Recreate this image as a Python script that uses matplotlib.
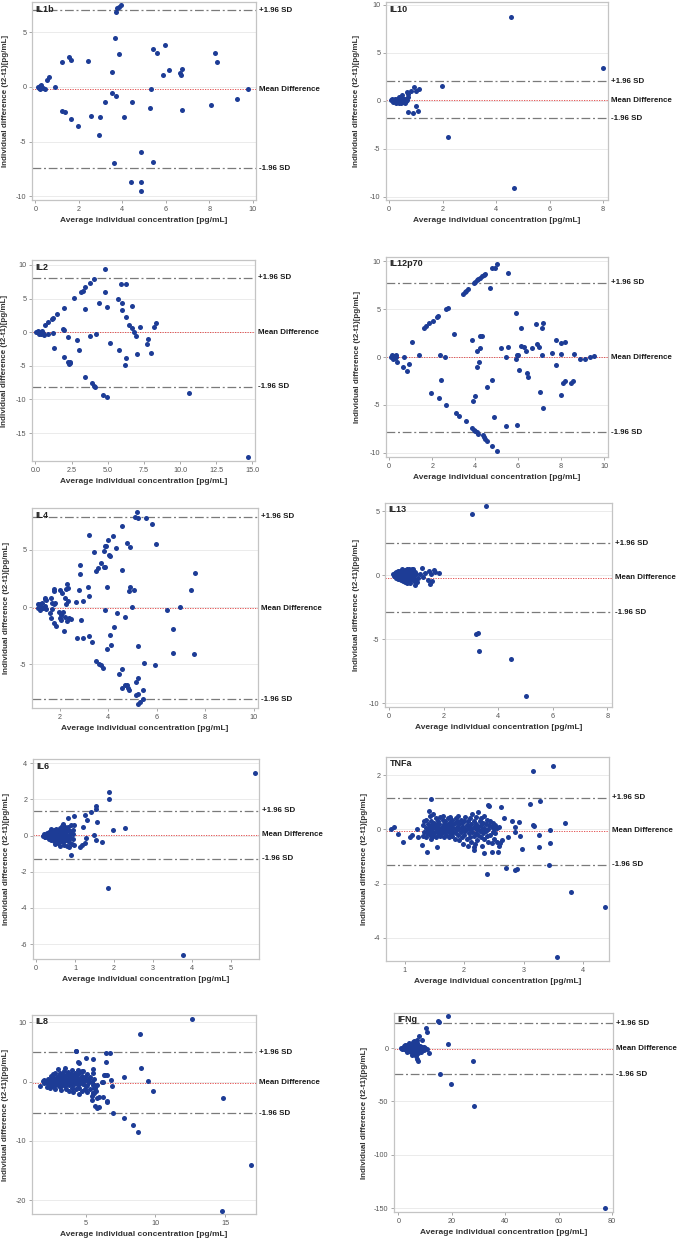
import matplotlib
matplotlib.use("Agg")
import matplotlib.pyplot as plt
import matplotlib.transforms as mtransforms

plt.rcParams['font.family'] = ['Liberation Sans', 'DejaVu Sans']
plt.rcParams['axes.unicode_minus'] = False

xlabel = "Average individual concentration [pg/mL]"
ylabel = "Individual difference (t2-t1)[pg/mL]"
line_labels = ["+1.96 SD", "Mean Difference", "-1.96 SD"]

# (mean, +1.96 SD, -1.96 SD) for each cytokine
il1b_lines = (-0.2, 7.0, -7.44)
il10_lines = (0.07, 2.05, -1.84)
il2_lines = (-0.03, 8.11, -8.13)
il12_lines = (-0.03, 7.78, -7.88)
il4_lines = (-0.09, 7.85, -8.02)
il13_lines = (-0.23, 2.47, -2.92)
il6_lines = (0.04, 1.38, -1.28)
tnfa_lines = (-0.05, 1.16, -1.3)
il8_lines = (-0.21, 4.95, -5.37)
ifng_lines = (-0.6, 23.4, -24.7)

# (average, difference) pairs
il1b_pts = [
    (3.95, 7.53), (3.85, 7.29), (3.77, 7.23), (3.72, 6.86), (3.66, 4.51), (3.86, 3.05),
    (3.55, 1.40), (3.55, -0.52), (3.71, -0.79), (3.22, -1.40), (4.08, -2.74), (4.43, -1.40),
    (2.97, -2.74), (2.58, -2.65), (2.91, -4.39), (1.98, -3.54), (1.65, -2.96), (1.35, -2.26),
    (1.22, -2.16), (1.25, 2.29), (1.57, 2.71), (1.65, 2.44), (2.42, 2.38), (0.92, -0.03),
    (0.62, 0.95), (0.54, 0.67), (0.12, -0.03), (0.20, 0.09), (0.28, 0.18), (0.23, -0.21),
    (0.35, -0.12), (0.43, -0.21), (0.17, -0.06), (3.62, -6.92), (4.85, -5.98), (4.88, -8.72),
    (4.42, -8.69), (4.85, -9.51), (5.42, -6.83), (5.43, 3.45), (5.60, 3.14), (5.97, 3.84),
    (5.31, -0.15), (5.28, -1.95), (5.88, 1.13), (6.14, 1.52), (6.66, 1.25), (6.69, 1.13),
    (6.77, 1.62), (6.77, -2.07), (8.28, 3.14), (8.34, 2.26), (8.06, -1.68), (9.29, -1.10),
    (9.78, -0.15),
]

il10_pts = [
    (4.55, 8.72), (8.01, 3.37), (1.98, 1.56), (0.93, 1.46), (1.10, 1.18), (1.02, 0.97),
    (0.80, 1.04), (0.67, 0.90), (0.70, 0.69), (0.49, 0.63), (0.71, 0.38), (0.36, 0.38),
    (1.01, -0.52), (0.71, -1.15), (0.90, -1.25), (1.08, -1.08), (2.21, -3.78), (4.67, -9.13),
    (0.06, 0.07), (0.14, 0.0), (0.20, 0.14), (0.26, -0.10), (0.31, 0.07), (0.35, -0.21),
    (0.41, -0.03), (0.46, 0.14), (0.51, -0.14), (0.56, 0.03), (0.60, -0.28), (0.16, -0.14),
    (0.29, 0.21), (0.39, 0.21), (0.44, -0.28), (0.49, 0.0), (0.54, 0.21), (0.61, -0.07),
    (0.66, 0.07), (0.24, -0.24), (0.11, 0.17), (0.34, -0.03), (0.21, 0.0), (0.47, 0.31),
    (0.64, 0.21),
]

il2_pts = [
    (4.82, 9.41), (4.08, 7.92), (3.81, 7.38), (3.46, 6.68), (3.30, 6.19), (3.14, 6.04),
    (4.82, 5.94), (2.70, 5.05), (5.91, 7.18), (6.30, 7.18), (5.68, 5.00), (6.02, 4.36),
    (5.98, 3.27), (6.67, 3.96), (4.38, 4.41), (4.96, 3.76), (3.46, 3.42), (1.98, 3.66),
    (1.48, 2.77), (1.22, 2.18), (1.13, 1.98), (0.90, 1.49), (0.69, 1.09), (6.30, 2.23),
    (6.46, 1.09), (6.69, 0.69), (8.33, 1.44), (8.17, 0.74), (7.25, 0.84), (6.81, 0.0),
    (6.97, -0.50), (7.82, -0.99), (7.69, -1.78), (8.01, -3.07), (7.04, -3.22), (5.19, -1.58),
    (5.79, -2.62), (6.30, -3.86), (6.21, -4.85), (4.20, -0.30), (3.81, -0.50), (2.88, -1.19),
    (2.24, -0.74), (1.89, 0.45), (2.01, 0.30), (1.25, -0.10), (0.88, -0.20), (1.27, -2.28),
    (1.96, -3.71), (2.28, -4.41), (2.40, -4.60), (2.31, -4.70), (2.42, -4.41), (3.05, -2.72),
    (3.46, -6.63), (3.90, -7.57), (4.08, -8.02), (4.15, -8.17), (4.71, -9.36), (4.92, -9.70),
    (10.64, -9.06), (14.68, -18.51), (0.07, 0.0), (0.18, 0.15), (0.30, -0.10), (0.42, 0.05),
    (0.53, -0.15), (0.60, -0.45), (0.25, -0.25), (0.48, 0.15), (0.37, -0.25),
]

il12_pts = [
    (5.02, 9.76), (4.91, 9.34), (4.78, 9.31), (5.51, 8.82), (4.46, 8.68), (4.39, 8.54),
    (4.30, 8.44), (4.22, 8.30), (4.15, 8.16), (4.08, 8.06), (4.01, 7.85), (3.94, 7.71),
    (4.69, 7.19), (3.68, 7.12), (3.59, 6.94), (3.51, 6.81), (3.42, 6.63), (2.73, 5.17),
    (2.64, 4.97), (2.27, 4.27), (2.20, 4.13), (2.03, 3.78), (1.83, 3.51), (1.72, 3.23),
    (1.63, 3.06), (1.04, 1.56), (3.00, 2.43), (3.87, 1.74), (4.24, 2.19), (4.32, 2.19),
    (4.22, 0.97), (4.10, 0.59), (4.18, -0.52), (4.10, -1.01), (1.38, 0.17), (2.34, 0.17),
    (2.59, -0.03), (0.67, 0.0), (0.90, -0.69), (0.82, -1.46), (0.62, -1.08), (0.37, -0.52),
    (0.08, 0.03), (0.14, -0.03), (0.20, 0.10), (0.25, -0.14), (0.30, 0.03), (0.17, -0.24),
    (0.33, 0.24), (0.11, 0.17), (0.23, -0.03), (2.42, -2.40), (1.94, -3.72), (2.31, -4.27),
    (2.64, -5.03), (3.11, -5.90), (3.25, -6.18), (3.59, -6.74), (3.84, -7.40), (3.93, -7.60),
    (4.01, -7.74), (4.07, -7.85), (4.13, -8.06), (4.35, -8.13), (4.39, -8.37), (4.46, -8.54),
    (4.55, -8.82), (4.80, -9.34), (5.02, -9.79), (4.89, -6.28), (5.42, -7.26), (5.96, -7.15),
    (4.80, -2.40), (4.57, -3.16), (4.01, -4.03), (3.90, -4.65), (5.19, 0.97), (5.53, 1.01),
    (5.42, -0.03), (5.92, 4.62), (6.12, 3.06), (6.12, 1.15), (6.29, 1.04), (6.37, 0.63),
    (5.95, 0.17), (6.01, 0.17), (5.92, -0.17), (6.04, -1.35), (6.43, -1.63), (6.44, -2.12),
    (6.66, 0.94), (6.83, 3.44), (6.88, 1.32), (6.99, 1.08), (7.10, 3.06), (7.14, 3.58),
    (7.10, 0.17), (7.02, -3.68), (7.14, -5.31), (7.58, 0.45), (7.76, 1.77), (7.75, -0.83),
    (7.98, 1.49), (8.17, 1.56), (7.97, 0.35), (7.98, -3.92), (8.07, -2.74), (8.17, -2.50),
    (8.45, -2.67), (8.54, -2.50), (8.60, 0.31), (8.88, -0.21), (9.13, -0.21), (9.32, -0.03),
    (9.52, 0.14),
]

il4_pts = [
    (5.18, 8.26), (5.10, 7.85), (5.22, 7.73), (5.55, 7.79), (5.81, 7.24), (4.59, 7.03),
    (3.22, 6.31), (4.18, 6.16), (3.99, 5.81), (4.77, 5.58), (4.90, 5.26), (4.32, 5.15),
    (3.85, 5.29), (3.92, 5.35), (3.82, 4.91), (4.03, 4.53), (4.07, 4.45), (3.40, 4.77),
    (5.96, 5.49), (3.70, 3.87), (3.59, 3.43), (3.85, 3.52), (3.81, 3.46), (3.48, 3.17),
    (4.59, 3.23), (2.85, 3.69), (2.85, 2.88), (7.60, 2.94), (7.41, 1.48), (3.97, 1.77),
    (4.89, 1.77), (4.88, 1.37), (5.08, 1.45), (3.16, 1.77), (3.22, 0.93), (2.81, 1.48),
    (2.30, 2.01), (2.34, 1.66), (2.25, 1.57), (2.00, 1.51), (2.08, 1.22), (1.78, 1.54),
    (1.75, 1.42), (2.23, 0.78), (2.33, 0.49), (2.25, 0.29), (2.67, 0.41), (2.96, 0.49),
    (5.00, 0.03), (6.97, 0.03), (6.41, -0.29), (3.86, -0.26), (4.36, -0.52), (4.70, -0.87),
    (2.88, -1.13), (4.23, -1.77), (6.68, -1.95), (4.08, -2.44), (4.12, -3.28), (3.95, -3.66),
    (3.19, -2.50), (3.34, -3.02), (2.96, -2.67), (2.71, -2.73), (5.23, -3.43), (6.68, -4.01),
    (7.56, -4.07), (3.48, -4.71), (3.64, -4.97), (3.70, -5.09), (3.77, -5.29), (4.56, -5.41),
    (4.45, -5.84), (5.49, -4.91), (5.93, -5.09), (4.56, -7.03), (4.70, -6.77), (4.77, -6.80),
    (4.81, -7.09), (4.84, -7.27), (5.15, -6.57), (5.22, -6.22), (5.45, -7.21), (5.15, -7.67),
    (5.25, -7.62), (5.42, -8.02), (5.32, -8.26), (5.22, -8.43),
    (1.10, 0.29), (1.18, 0.29), (1.29, 0.35), (1.18, 0.06), (1.12, -0.12), (1.21, -0.29),
    (1.32, -0.12), (1.41, 0.12), (1.42, -0.15), (1.40, 0.76), (1.42, 0.64), (1.38, 0.67),
    (1.67, 0.35), (1.64, 0.76), (1.75, 0.29), (1.79, 0.38), (1.70, -0.15), (1.64, -0.93),
    (1.75, -1.40), (1.86, -1.63), (1.97, -0.47), (2.00, -0.93), (2.07, -0.67), (2.04, -1.16),
    (2.14, -0.47), (2.16, -2.06), (2.23, -0.87), (2.30, -1.22), (2.38, -0.96), (2.45, -1.02),
    (1.59, -0.52),
]

il13_pts = [
    (3.55, 5.36), (3.04, 4.74), (3.25, -4.53), (3.20, -4.58), (3.28, -5.94), (4.48, -6.56),
    (5.02, -9.43),
    (1.20, 0.52), (1.45, 0.29), (1.63, 0.42), (1.69, 0.26), (1.84, 0.18), (1.53, 0.10),
    (1.58, -0.49), (1.51, -0.70), (1.41, -0.36), (1.26, -0.16), (1.14, 0.10), (1.33, 0.16),
    (1.04, -0.52), (0.94, -0.76),
    (0.15, 0.05), (0.18, -0.10), (0.20, 0.15), (0.22, -0.05), (0.25, 0.25), (0.27, -0.20),
    (0.30, 0.10), (0.32, -0.30), (0.33, 0.35), (0.35, 0.0), (0.37, -0.15), (0.40, 0.30),
    (0.42, -0.40), (0.44, 0.10), (0.46, -0.25), (0.48, 0.45), (0.50, 0.0), (0.52, -0.50),
    (0.54, 0.20), (0.56, -0.10), (0.58, 0.40), (0.60, -0.35), (0.62, 0.10), (0.64, -0.60),
    (0.66, 0.50), (0.68, -0.20), (0.70, 0.25), (0.72, -0.45), (0.74, 0.05), (0.76, 0.35),
    (0.78, -0.65), (0.80, 0.15), (0.82, -0.30), (0.84, 0.50), (0.86, -0.10), (0.88, 0.30),
    (0.90, -0.50), (0.92, 0.0), (0.95, 0.20), (0.98, -0.35), (1.00, 0.10), (1.05, -0.20),
    (0.36, 0.20), (0.43, -0.05), (0.53, 0.30), (0.61, -0.05), (0.69, 0.0), (0.73, 0.45),
    (0.79, -0.15), (0.83, 0.05), (0.57, -0.55), (0.47, 0.20), (0.39, -0.30), (0.29, 0.0),
    (0.65, -0.40), (0.75, -0.30), (0.87, 0.45), (0.93, -0.20),
]

il6_pts = [
    (5.62, 3.45), (1.87, 2.43), (1.87, 2.04), (1.54, 1.64), (1.55, 1.47), (1.41, 1.32),
    (1.26, 1.12), (1.32, 0.85), (1.57, 0.77), (0.97, 1.07), (0.83, 0.97), (1.21, 0.46),
    (1.97, 0.33), (2.29, 0.44), (1.50, 0.05), (1.53, -0.24), (1.27, -0.15), (1.69, -0.37),
    (1.26, -0.43), (1.18, -0.52), (1.14, -0.65), (0.98, -0.52), (0.90, -1.06), (1.84, -2.90),
    (3.77, -6.61), (0.97, 0.61), (0.95, 0.29), (0.84, -0.63),
    (0.17, 0.0), (0.20, 0.10), (0.22, -0.10), (0.25, 0.05), (0.27, 0.15), (0.30, -0.05),
    (0.32, 0.20), (0.33, -0.15), (0.35, 0.10), (0.37, 0.0), (0.38, -0.25), (0.40, 0.25),
    (0.42, 0.05), (0.43, -0.10), (0.45, 0.30), (0.47, -0.30), (0.48, 0.15), (0.50, 0.0),
    (0.52, 0.35), (0.53, -0.20), (0.55, 0.10), (0.57, -0.40), (0.58, 0.25), (0.60, -0.05),
    (0.62, 0.40), (0.63, -0.30), (0.65, 0.15), (0.67, 0.55), (0.68, -0.15), (0.70, 0.30),
    (0.72, -0.50), (0.73, 0.05), (0.75, 0.45), (0.77, -0.25), (0.78, 0.20), (0.80, -0.60),
    (0.82, 0.0), (0.83, 0.50), (0.85, -0.35), (0.87, 0.25), (0.88, -0.10), (0.90, 0.60),
    (0.92, -0.45), (0.94, 0.10), (0.95, -0.20), (0.28, 0.05), (0.36, -0.05), (0.41, 0.15),
    (0.46, -0.15), (0.51, 0.20), (0.56, -0.10), (0.61, 0.05), (0.66, -0.05), (0.71, 0.10),
    (0.76, 0.0), (0.81, 0.30), (0.86, 0.10), (0.24, -0.05), (0.31, 0.10), (0.44, 0.0),
    (0.54, 0.05), (0.64, 0.25), (0.69, -0.35), (0.74, -0.10), (0.79, 0.40), (0.84, -0.20),
    (0.59, -0.25), (0.49, -0.45), (0.39, 0.35), (0.34, -0.20), (0.62, -0.55), (0.70, 0.62),
]

tnfa_pts = [
    (3.50, 2.34), (3.15, 2.14), (3.28, 1.03), (3.10, 0.92), (1.45, 1.13), (3.70, 0.23),
    (3.15, 0.17), (3.18, 0.13), (3.44, -0.03), (3.25, -0.21), (3.44, -0.50), (3.25, -0.66),
    (2.97, -0.72), (3.43, -1.31), (2.70, -1.41), (2.88, -1.48), (2.85, -1.50), (2.39, -1.65),
    (3.79, -2.31), (4.37, -2.88), (3.56, -4.73), (2.94, -0.24), (2.92, 0.28), (2.81, 0.31),
    (2.67, 0.40), (2.62, 0.83), (2.85, 0.07), (2.86, -0.09), (2.73, -0.30), (2.60, -0.52),
    (2.63, -0.40), (2.46, -0.85), (2.57, -0.84), (2.33, -0.89), (2.16, -0.67), (2.16, -0.75),
    (1.37, -0.84), (1.54, -0.67), (0.97, -0.47), (0.77, 0.03), (0.82, 0.08), (0.89, -0.16),
    (1.09, -0.30), (1.12, -0.21), (1.21, 0.0), (1.23, -0.30), (1.29, -0.56), (1.41, 0.68),
    (1.47, 0.58),
    (1.30, 0.15), (1.30, -0.25), (1.33, 0.30), (1.33, -0.10), (1.36, 0.05), (1.36, -0.30),
    (1.36, 0.35), (1.38, -0.15), (1.40, 0.20), (1.40, -0.05), (1.42, 0.50), (1.42, -0.20),
    (1.42, 0.10), (1.44, 0.0), (1.44, 0.30), (1.44, -0.35), (1.46, -0.10), (1.46, 0.15),
    (1.48, 0.05), (1.48, -0.25), (1.50, 0.25), (1.50, -0.15), (1.50, 0.10), (1.52, 0.0),
    (1.52, 0.40), (1.52, -0.30), (1.54, 0.15), (1.54, -0.05), (1.56, 0.30), (1.56, -0.20),
    (1.56, 0.05), (1.58, -0.10), (1.58, 0.20), (1.60, 0.45), (1.60, 0.0), (1.60, -0.25),
    (1.62, 0.10), (1.62, -0.15), (1.64, 0.35), (1.64, -0.05), (1.64, 0.50), (1.66, 0.20),
    (1.66, -0.30), (1.68, 0.0), (1.68, 0.30), (1.68, -0.10), (1.70, 0.15), (1.70, -0.20),
    (1.72, 0.40), (1.72, -0.05), (1.72, 0.05), (1.74, -0.30), (1.74, 0.25), (1.76, 0.10),
    (1.76, -0.15), (1.76, 0.45), (1.78, 0.0), (1.78, 0.30), (1.80, -0.25), (1.80, 0.15),
    (1.80, 0.35), (1.82, 0.05), (1.82, -0.10), (1.84, 0.25), (1.84, -0.35), (1.86, 0.40),
    (1.86, 0.0), (1.86, -0.15), (1.88, 0.10), (1.88, 0.30), (1.90, -0.20), (1.90, 0.50),
    (1.90, 0.0), (1.92, 0.20), (1.92, -0.40), (1.94, 0.05), (1.94, -0.10), (1.94, 0.35),
    (1.96, 0.25), (1.96, -0.30), (1.98, 0.0), (1.98, 0.10), (1.98, -0.55), (2.00, 0.30),
    (2.00, -0.20), (2.00, 0.05), (2.02, -0.05), (2.02, 0.45), (2.04, 0.15), (2.04, -0.35),
    (2.04, 0.0), (2.06, 0.30), (2.06, -0.60), (2.08, -0.15), (2.08, 0.10), (2.08, 0.05),
    (2.10, 0.40), (2.10, -0.30), (2.12, 0.0), (2.12, 0.20), (2.12, -0.45), (2.14, -0.10),
    (2.14, 0.55), (2.16, 0.30), (2.16, -0.25), (2.16, 0.10), (2.18, 0.05), (2.18, -0.55),
    (2.20, 0.45), (2.20, -0.15), (2.20, 0.20), (2.22, 0.0), (2.22, -0.40), (2.24, 0.65),
    (2.24, 0.10), (2.24, -0.20), (2.26, 0.30), (2.26, -0.05), (2.28, 0.15), (2.28, -0.30),
    (2.28, 0.40), (2.30, 0.0), (2.30, -0.60), (2.32, 0.25), (2.32, -0.15), (2.34, 0.50),
    (2.34, -0.35), (2.34, 0.05), (2.36, 0.20), (2.36, -0.05), (2.38, 0.35), (2.38, -0.25),
    (2.40, 0.90), (2.40, 0.0), (2.40, -0.45), (2.42, 0.85), (2.42, 0.15), (2.44, 0.30),
    (2.44, -0.20), (2.46, 0.10), (2.46, -0.50), (2.48, 0.25), (2.48, -0.10), (2.50, 0.0),
    (2.50, -0.35), (2.52, 0.15), (2.52, -0.15), (2.55, -0.45), (2.55, 0.05), (2.58, -0.60),
    (2.58, 0.10),
]

il8_pts = [
    (12.64, 10.5), (8.92, 8.0), (8.97, 2.32), (9.47, 0.13), (9.83, -1.5), (7.76, 0.8),
    (14.86, -2.84), (16.88, -14.07), (14.78, -21.75), (7.74, -6.16), (8.37, -7.39),
    (8.73, -8.41), (6.92, -5.37), (6.90, -0.71), (6.78, 0.35), (6.75, 4.78), (6.44, 4.89),
    (6.44, 3.33), (6.30, 1.08), (6.40, 1.08), (6.54, 1.08), (6.49, -3.27), (6.51, -3.44),
    (6.20, -2.52), (5.91, -2.57), (5.91, -4.34), (5.82, -4.51), (5.67, -4.06), (5.50, 2.2),
    (5.48, 3.83), (5.00, 3.94), (4.28, 5.17), (4.40, 3.27), (6.13, 0.0), (6.25, -0.04),
    (5.58, -0.6), (5.65, -1.16), (5.53, -2.0), (5.41, -3.02), (5.48, -1.84), (4.69, 1.81),
    (4.57, 0.69),
    (1.7, -0.7), (1.9, 0.1), (2.0, -0.3), (2.0, 0.3), (2.2, 0.0), (2.2, -0.9), (2.3, 0.5),
    (2.3, -0.4), (2.4, 0.2), (2.4, -0.1), (2.4, -1.0), (2.5, 1.0), (2.5, 0.3), (2.5, -0.5),
    (2.6, 1.3), (2.6, 0.0), (2.6, -0.8), (2.7, 0.6), (2.7, -0.3), (2.7, 0.1), (2.8, 1.5),
    (2.8, 0.2), (2.8, -0.6), (2.8, -1.2), (2.9, 0.8), (2.9, -0.1), (2.9, 0.4), (3.0, 2.2),
    (3.0, 1.0), (3.0, 0.0), (3.0, -0.5), (3.1, 0.3), (3.1, -0.9), (3.1, 1.5), (3.2, 0.6),
    (3.2, -0.2), (3.2, -1.4), (3.3, 1.2), (3.3, 0.1), (3.3, -0.6), (3.4, 0.8), (3.4, -0.3),
    (3.4, 0.4), (3.4, 1.8), (3.5, 2.3), (3.5, 0.0), (3.5, -0.8), (3.6, 1.1), (3.6, 0.5),
    (3.6, -0.4), (3.6, -1.2), (3.7, 0.2), (3.7, 1.6), (3.7, -0.1), (3.8, 0.9), (3.8, -0.6),
    (3.8, 0.4), (3.8, -1.5), (3.9, 1.3), (3.9, 0.0), (3.9, -0.3), (4.0, 0.6), (4.0, -1.0),
    (4.0, 1.9), (4.1, 0.2), (4.1, -0.5), (4.1, 1.0), (4.1, -1.8), (4.2, 1.5), (4.2, 0.4),
    (4.2, -0.2), (4.3, 5.2), (4.3, 0.8), (4.3, -1.3), (4.3, 0.0), (4.4, 1.2), (4.4, -0.6),
    (4.4, 2.0), (4.5, 3.2), (4.5, 0.3), (4.5, -1.0), (4.5, -2.1), (4.6, 1.6), (4.6, -0.2),
    (4.7, 0.5), (4.7, -1.5), (4.7, 1.0), (4.8, 1.8), (4.8, -0.4), (4.8, 0.0), (4.9, 0.8),
    (4.9, -1.2), (5.0, 0.2), (5.0, -0.8), (5.1, 1.2), (5.1, -0.5), (5.1, -1.8), (5.2, 0.4),
    (5.2, -0.1), (5.3, -1.3), (5.3, 0.7), (5.4, 0.0), (5.4, -2.5), (5.5, -0.6), (5.5, 1.4),
    (5.6, -1.1), (5.6, -2.0), (5.6, 0.5), (5.7, -1.6), (5.8, -0.5), (5.8, -2.8),
]

ifng_pts = [
    (18.4, 29.7), (15.0, 25.0), (15.2, 24.1), (10.3, 18.8), (10.8, 15.3), (7.8, 11.6),
    (18.4, 3.4), (28.1, -12.2), (15.5, -24.7), (19.8, -34.1), (28.2, -54.4), (77.3, -150.0),
    (6.8, 7.2), (8.8, 7.2), (6.9, -10.3), (7.4, -11.9), (11.6, -4.7), (9.7, 0.9),
    (10.6, -0.6), (6.4, 0.6),
    (1.0, 0.5), (1.5, -0.5), (2.0, 1.5), (2.2, -1.0), (2.5, 0.0), (2.8, 2.0), (3.0, -2.0),
    (3.2, 1.0), (3.5, -0.5), (3.7, 3.0), (3.9, -3.0), (4.0, 0.5), (4.2, 2.5), (4.4, -1.5),
    (4.6, 4.0), (4.8, -4.0), (5.0, 1.0), (5.1, -0.5), (5.3, 5.5), (5.5, -2.5), (5.6, 2.0),
    (5.8, -6.0), (6.0, 0.0), (6.2, 3.5), (6.4, -3.5), (6.6, 1.5), (6.8, -1.0), (7.0, 4.5),
    (7.2, -5.0), (7.5, 0.5), (7.8, -2.0), (8.0, 2.0), (8.3, -3.5), (8.6, 0.0), (9.0, 1.0),
    (2.4, 3.0), (3.3, -4.0), (4.1, 5.0), (4.9, -6.5), (5.4, 3.0), (6.1, -4.5), (6.9, 2.5),
    (7.6, -1.5), (3.6, 1.5), (4.5, 0.0), (5.2, -1.5), (5.9, 0.5), (1.8, 0.0), (2.7, -0.5),
    (4.3, -2.5), (5.7, 6.5), (6.5, -7.0), (3.1, 2.5), (4.7, 2.0), (6.3, 1.0), (7.3, -0.5),
    (8.2, -1.0), (9.5, -1.5), (10.0, 0.5),
]

W, H = 679, 1240
fig = plt.figure(figsize=(W / 100, H / 100), dpi=100)
fig.patch.set_facecolor("white")

# name, points, lines, box in pixels (left, top, right, bottom), xlim, ylim, xticks, yticks, ylabel offset, xfmt
panels = [
    ("IL1b", il1b_pts, il1b_lines, (32, 2, 256, 200), (-0.15, 10.15), (-10.34, 7.77),
     [0, 2, 4, 6, 8, 10], [-10, -5, 0, 5], 26.5, "%g"),
    ("IL10", il10_pts, il10_lines, (386, 2, 608, 200), (-0.12, 8.18), (-10.34, 10.28),
     [0, 2, 4, 6, 8], [-10, -5, 0, 5, 10], 29, "%g"),
    ("IL2", il2_pts, il2_lines, (32, 260, 255, 461), (-0.23, 15.18), (-19.16, 10.74),
     [0, 2.5, 5, 7.5, 10, 12.5, 15], [-15, -10, -5, 0, 5, 10], 27, "%.1f"),
    ("IL12p70", il12_pts, il12_lines, (386, 257, 608, 457), (-0.15, 10.18), (-10.45, 10.45),
     [0, 2, 4, 6, 8, 10], [-10, -5, 0, 5, 10], 28.7, "%g"),
    ("IL4", il4_pts, il4_lines, (32, 508, 258, 708), (0.86, 10.18), (-8.8, 8.63),
     [2, 4, 6, 8, 10], [-5, 0, 5], 25.3, "%g"),
    ("IL13", il13_pts, il13_lines, (385, 503, 612, 707), (-0.15, 8.17), (-10.31, 5.63),
     [0, 2, 4, 6, 8], [-10, -5, 0, 5], 28, "%g"),
    ("IL6", il6_pts, il6_lines, (33, 759, 259, 959), (-0.08, 5.73), (-6.83, 4.24),
     [0, 1, 2, 3, 4, 5], [-6, -4, -2, 0, 2, 4], 26.3, "%g"),
    ("TNFa", tnfa_pts, tnfa_lines, (386, 757, 609, 961), (0.686, 4.435), (-4.86, 2.67),
     [1, 2, 3, 4], [-4, -2, 0, 2], 22, "%g"),
    ("IL8", il8_pts, il8_lines, (32, 1015, 256, 1214), (1.12, 17.23), (-22.3, 11.22),
     [5, 10, 15], [-20, -10, 0, 10], 26.5, "%g"),
    ("IFNg", ifng_pts, ifng_lines, (394, 1013, 613, 1212), (-1.66, 80.4), (-153.5, 32.8),
     [0, 20, 40, 60, 80], [-150, -100, -50, 0], 29.7, "%g"),
]

dot_color = "#1d3c96"
frame_color = "#c4c4c4"
sd_style = (0, (7, 2.2, 1.6, 2.2))

for name, pts, lines, box, xlim, ylim, xticks, yticks, ylab_off, xfmt in panels:
    l, t, r, b = box
    ax = fig.add_axes([l / W, 1 - b / H, (r - l) / W, (b - t) / H])
    ax.set_xlim(xlim)
    ax.set_ylim(ylim)
    ax.set_xticks(xticks)
    ax.set_yticks(yticks)
    ax.set_xticklabels([xfmt % v for v in xticks])
    ax.set_yticklabels(["%g" % v for v in yticks])
    ax.tick_params(direction="out", length=2.5, width=0.6, color="#9a9a9a",
                   labelsize=5.2, labelcolor="#555555", pad=1.5)
    for s in ax.spines.values():
        s.set_color(frame_color)
        s.set_linewidth(0.9)
    ax.grid(axis="y", color="#e8e8e8", linewidth=0.6)
    ax.set_axisbelow(True)

    mean, up, low = lines
    ax.axhline(up, color="#7a7a7a", linewidth=0.9, linestyle=sd_style, zorder=2)
    ax.axhline(low, color="#7a7a7a", linewidth=0.9, linestyle=sd_style, zorder=2)
    ax.axhline(mean, color="#e03a3a", linewidth=0.6, linestyle=(0, (1.5, 1.5)), zorder=2)

    xs = [p[0] for p in pts]
    ys = [p[1] for p in pts]
    ax.scatter(xs, ys, s=13, color=dot_color, linewidths=0, zorder=3, clip_on=False)

    trans = mtransforms.blended_transform_factory(ax.transAxes, ax.transData)
    for lab, val in zip(line_labels, [up, mean, low]):
        ax.annotate(lab, xy=(1, val), xycoords=trans, xytext=(3, 0),
                    textcoords="offset pixels", ha="left", va="center",
                    fontsize=5.7, fontweight="bold", color="#1a1a1a", annotation_clip=False)

    ax.text(0.0, 1.0, name, transform=ax.transAxes + mtransforms.ScaledTranslation(3.5 / 100, -2.5 / 100, fig.dpi_scale_trans),
            ha="left", va="top", fontsize=6.5, fontweight="bold", color="#222222")

    ax.annotate(xlabel, xy=(0.5, 0), xycoords="axes fraction", xytext=(0, -20.5),
                textcoords="offset pixels", ha="center", va="center",
                fontsize=6, fontweight="bold", color="#333333")
    ax.annotate(ylabel, xy=(0, 0.5), xycoords="axes fraction", xytext=(-ylab_off, 0),
                textcoords="offset pixels", ha="center", va="center", rotation=90,
                fontsize=5.8, fontweight="bold", color="#333333")

fig.savefig("out.png", dpi=100, facecolor="white")
